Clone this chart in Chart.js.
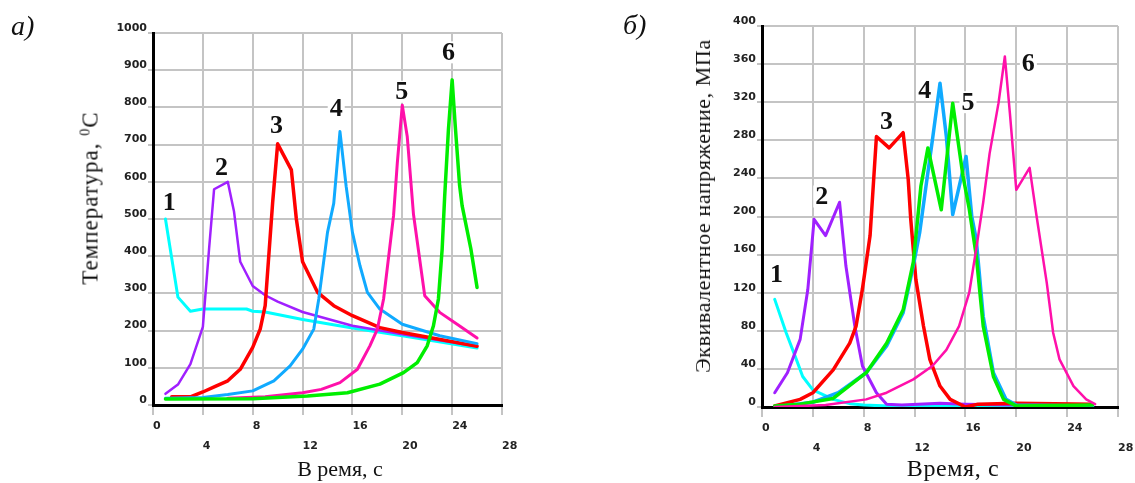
<!DOCTYPE html>
<html><head><meta charset="utf-8">
<script src="https://cdn.jsdelivr.net/npm/chart.js@4/dist/chart.umd.min.js"></script>
<style>
html,body{margin:0;padding:0;background:#fff;overflow:hidden;width:1135px;height:483px;position:relative}
.pane{position:absolute;top:0}
.t{position:absolute;font-family:"Liberation Serif","Times New Roman",serif;color:#111;white-space:nowrap;line-height:1}
.tag{font-style:italic;font-size:28px}
.yt{transform:translate(-50%,-50%) rotate(-90deg)}
.xt{transform:translate(-50%,-50%)}
</style></head>
<body>
<canvas id="cT" width="560" height="483" class="pane" style="left:0"></canvas>
<canvas id="cS" width="600" height="483" class="pane" style="left:570px"></canvas>
<div class="t tag" style="left:11px;top:12px">а)</div>
<div class="t tag" style="left:623px;top:11px">б)</div>
<div class="t yt" style="left:90px;top:198px;font-size:23px;letter-spacing:1px">Температура, <span style="font-size:14px;position:relative;top:-8px">0</span>C</div>
<div class="t xt" style="left:340px;top:469px;font-size:22px">В ремя, с</div>
<div class="t yt" style="left:703px;top:206px;font-size:22px;letter-spacing:0.6px">Эквивалентное напряжение, МПа</div>
<div class="t xt" style="left:953px;top:468px;font-size:24px;letter-spacing:0.6px">Время, с</div>
<script>
// ---------- data ----------
const seriesNames = ['1','2','3','4','5','6'];
const timeTicks = [0,4,8,12,16,20,24,28];
const tempTicks = [0,100,200,300,400,500,600,700,800,900,1000];
const stressTicks = [0,40,80,120,160,200,240,280,320,360,400];

// (a) temperature, °C
const tempT1 = [1, 2, 3, 4, 7.5, 8, 9, 12, 16, 20, 26];
const tempV1 = [500, 290, 252, 258, 258, 252, 250, 230, 207, 186, 153];
const tempT2 = [1, 2, 3, 4, 4.5, 4.9, 6, 6.5, 7, 8, 9, 10, 12, 16, 20, 26];
const tempV2 = [30, 55, 110, 210, 420, 580, 600, 520, 385, 320, 295, 278, 250, 213, 190, 158];
const tempT3 = [1.5, 3, 4, 5, 6, 7, 8, 8.6, 9, 9.6, 10, 11.1, 11.5, 12, 13.2, 14.5, 16, 18.2, 20, 26];
const tempV3 = [22, 22, 35, 50, 65, 96, 155, 204, 267, 545, 702, 632, 500, 385, 303, 267, 240, 208, 195, 158];
const tempT4 = [1, 4, 6, 8, 9.7, 11, 12, 12.9, 13.3, 14, 14.5, 15, 15.5, 16, 16.6, 17.2, 18.2, 20, 23, 26];
const tempV4 = [18, 20, 28, 38, 65, 105, 150, 204, 285, 464, 542, 735, 587, 464, 375, 303, 258, 217, 186, 165];
const tempT5 = [6, 9, 12, 13.5, 15, 16.4, 17.4, 18, 18.5, 19.3, 19.6, 20, 20.4, 20.9, 21.8, 23, 24.4, 26];
const tempV5 = [18, 22, 33, 42, 60, 96, 159, 204, 285, 509, 650, 806, 721, 512, 294, 249, 217, 180];
const tempT6 = [1, 8, 12.4, 15.6, 18.2, 20.1, 21.2, 22, 22.5, 22.9, 23.2, 23.4, 23.7, 24, 24.25, 24.6, 24.8, 25.5, 26];
const tempV6 = [16, 17, 24, 33, 56, 87, 114, 159, 213, 285, 420, 560, 739, 874, 750, 590, 536, 420, 316];

// (б) equivalent stress, MPa
const stressT1 = [1, 1.9, 2.7, 3.2, 4, 5.6, 6.9, 8, 10, 26];
const stressV1 = [113, 78, 50, 32, 18, 8, 3.5, 2, 1, 1];
const stressT2 = [1, 2, 3, 3.6, 4.1, 5, 6.1, 6.6, 7.3, 7.9, 9, 9.8, 11, 14, 16, 20, 26];
const stressV2 = [15, 36, 71, 123, 197, 180, 215, 148, 85, 43, 15, 3, 2, 4, 3, 2, 2];
const stressT3 = [1, 3, 4, 5.6, 6.9, 7.4, 7.9, 8.5, 9, 10, 11.1, 11.5, 11.7, 12.1, 12.7, 13.2, 14, 14.8, 16, 17, 20, 26];
const stressV3 = [1, 8, 15, 39, 67, 85, 124, 180, 284, 272, 288, 239, 197, 134, 85, 50, 22, 8, 0, 3, 4, 3];
const stressT4 = [1, 4, 6, 8.2, 9.8, 11.1, 11.9, 12.4, 12.9, 13.4, 14, 14.5, 15, 16.05, 16.5, 16.85, 17.4, 18.2, 19.2, 20, 26];
const stressV4 = [0, 5, 15, 36, 64, 99, 148, 183, 232, 280, 340, 284, 202, 263, 200, 176, 95, 36, 8, 2, 1];
const stressT5 = [1, 3, 5.6, 8.2, 9.8, 11.1, 11.9, 12.5, 13.05, 14.1, 15, 15.8, 16.3, 16.85, 17.4, 18.2, 19, 20, 26];
const stressV5 = [1, 3, 9, 36, 67, 102, 152, 232, 272, 207, 319, 243, 208, 159, 85, 32, 8, 1, 2];
const stressT6 = [1, 5, 8.2, 9.8, 11.9, 13.4, 14.5, 15.5, 16.3, 16.85, 17.4, 17.9, 18.6, 19.1, 19.5, 20, 21.05, 21.6, 22.4, 22.9, 23.4, 24.5, 25.5, 26.2];
const stressV6 = [0, 2, 8, 15, 29, 43, 60, 85, 120, 166, 215, 266, 319, 368, 308, 228, 251, 200, 130, 78, 50, 22, 8, 3];

// curve number annotations (data coordinates)
const tempLabelT = [1.3, 5.5, 9.9, 14.7, 19.96, 23.7];
const tempLabelV = [546, 640, 753, 797, 842, 948];
const stressLabelT = [1.15, 4.7, 9.8, 12.8, 16.2, 20.95];
const stressLabelV = [139, 221, 300, 333, 320, 361];

// ---------- styles ----------
const colorsT = ['#00ffff', '#a020ff', '#ff0000', '#10aaff', '#ff10aa', '#00ee00'];
const colorsS = ['#00ffff', '#a020ff', '#ff0000', '#10aaff', '#00ee00', '#ff10aa'];
const widthsT = [3, 2.5, 3.5, 3, 3, 3.5];
const widthsS = [3, 3, 3.5, 3.5, 3.5, 2.5];

const zip = (ts, vs) => ts.map((t, i) => ({x: t, y: vs[i]}));

const numberLabels = {
  id: 'numberLabels',
  beforeDatasetsDraw(chart, args, opts) {
    const {ctx} = chart; const x = chart.scales.x, y = chart.scales.y;
    ctx.save();
    ctx.font = 'bold 26px "Liberation Serif"';
    ctx.fillStyle = '#fff';
    opts.texts.forEach((s, i) => {
      const px = x.getPixelForValue(opts.ts[i]), py = y.getPixelForValue(opts.vs[i]);
      const w = ctx.measureText(s).width;
      ctx.fillRect(px - w / 2 - 2, py - 11, w + 4, 22);
    });
    ctx.restore();
  },
  afterDatasetsDraw(chart, args, opts) {
    const {ctx} = chart; const x = chart.scales.x, y = chart.scales.y;
    ctx.save();
    ctx.font = 'bold 26px "Liberation Serif"';
    ctx.fillStyle = '#111';
    ctx.textAlign = 'center';
    ctx.textBaseline = 'middle';
    opts.texts.forEach((s, i) => {
      ctx.fillText(s, x.getPixelForValue(opts.ts[i]), y.getPixelForValue(opts.vs[i]) + 1);
    });
    ctx.restore();
  }
};

function build(canvasId, series, colors, widths, yTicks, yMax, pad, labels) {
  const datasets = series.map((s, i) => ({
    label: seriesNames[i],
    data: zip(s[0], s[1]),
    borderColor: colors[i],
    borderWidth: widths[i],
    pointRadius: 0,
    tension: 0,
    fill: false,
    borderJoinStyle: 'round',
    borderCapStyle: 'round',
    order: -i
  }));
  return new Chart(document.getElementById(canvasId), {
    type: 'line',
    data: {datasets},
    options: {
      responsive: false,
      animation: false,
      layout: {padding: pad},
      plugins: {legend: {display: false}, tooltip: {enabled: false}, numberLabels: labels},
      scales: {
        x: {
          type: 'linear', min: 0, max: 28,
          afterBuildTicks: s => { s.ticks = timeTicks.map(v => ({value: v})); },
          afterFit: s => { s.height = 50; s.paddingLeft = 0; s.paddingRight = 0; },
          grid: {color: '#c4c4c4', lineWidth: 2, tickLength: 10, drawTicks: true},
          border: {color: '#000', width: 3},
          ticks: {
            align: 'start', padding: 1, autoSkip: false, maxRotation: 0, color: '#222',
            font: {family: 'DejaVu Sans', size: 11, weight: 'bold', lineHeight: 1.82},
            callback: (v, i) => (i % 2 === 0 ? String(v) : ['', String(v)])
          }
        },
        y: {
          type: 'linear', min: 0, max: yMax,
          afterBuildTicks: s => { s.ticks = yTicks.map(v => ({value: v})); },
          afterFit: s => { s.width = 60; s.paddingTop = 0; s.paddingBottom = 0; },
          grid: {color: '#c4c4c4', lineWidth: 2, tickLength: 5, drawTicks: true},
          border: {color: '#000', width: 3},
          ticks: {
            padding: 1, labelOffset: -5, color: '#222',
            font: {family: 'DejaVu Sans', size: 11, weight: 'bold'},
            callback: v => String(v)
          }
        }
      }
    },
    plugins: [numberLabels]
  });
}

build('cT',
  [[tempT1, tempV1], [tempT2, tempV2], [tempT3, tempV3], [tempT4, tempV4], [tempT5, tempV5], [tempT6, tempV6]],
  colorsT, widthsT, tempTicks, 1000,
  {left: 93, right: 58, top: 33, bottom: 28},
  {texts: seriesNames, ts: tempLabelT, vs: tempLabelV});

build('cS',
  [[stressT1, stressV1], [stressT2, stressV2], [stressT3, stressV3], [stressT4, stressV4], [stressT5, stressV5], [stressT6, stressV6]],
  colorsS, widthsS, stressTicks, 400,
  {left: 132, right: 52, top: 26, bottom: 26},
  {texts: seriesNames, ts: stressLabelT, vs: stressLabelV});
</script>
</body></html>
